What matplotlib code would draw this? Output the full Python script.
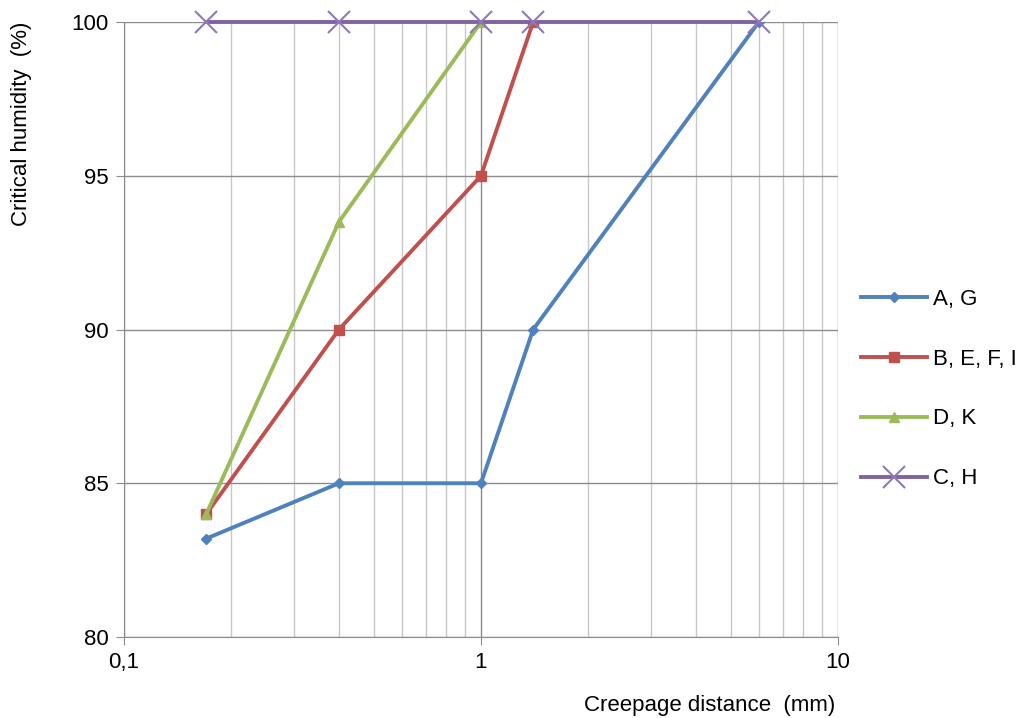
import matplotlib.pyplot as plt
from matplotlib.ticker import FixedLocator, FixedFormatter, LogLocator, NullFormatter

plt.rcParams['font.family'] = ['Liberation Sans', 'DejaVu Sans']

# creepage distance (mm) vs critical humidity (%)
x_ag = [0.17, 0.4, 1.0, 1.4, 6.0]
y_ag = [83.2, 85, 85, 90, 100]
x_befi = [0.17, 0.4, 1.0, 1.4]
y_befi = [84, 90, 95, 100]
x_dk = [0.17, 0.4, 1.0]
y_dk = [84, 93.5, 100]
x_ch = [0.17, 0.4, 1.0, 1.4, 6.0]
y_ch = [100, 100, 100, 100, 100]

fs = 16

fig = plt.figure(figsize=(10.28, 7.18), dpi=100)
ax = fig.add_axes([124 / 1028, 81 / 718, 714 / 1028, 615 / 718])

ax.set_xscale('log')
ax.set_xlim(0.1, 10)
ax.set_ylim(80, 100)

ax.plot(x_ag, y_ag, color='#4F81BD', lw=2.8, marker='D', ms=5, label='A, G', zorder=3)
ax.plot(x_befi, y_befi, color='#C0504D', lw=2.8, marker='s', ms=7, label='B, E, F, I', zorder=4)
ax.plot(x_dk, y_dk, color='#9BBB59', lw=2.8, marker='^', ms=7, label='D, K', zorder=5)
ax.plot(x_ch, y_ch, color='#8064A2', lw=2.8, marker='x', ms=16, mew=1.5, mec='#8f78b5',
        label='C, H', zorder=6, clip_on=False)

ax.xaxis.set_major_locator(FixedLocator([0.1, 1, 10]))
ax.xaxis.set_major_formatter(FixedFormatter(['0,1', '1', '10']))
ax.xaxis.set_minor_locator(LogLocator(base=10, subs=range(2, 10)))
ax.xaxis.set_minor_formatter(NullFormatter())
ax.set_yticks([80, 85, 90, 95, 100])

ax.grid(which='major', axis='both', color='#8c8c8c', lw=1.0, zorder=0)
ax.grid(which='minor', axis='x', color='#c8c8c8', lw=1.0, zorder=0)
ax.set_axisbelow(True)

for s in ['top', 'right']:
    ax.spines[s].set_visible(False)
for s in ['left', 'bottom']:
    ax.spines[s].set_color('#8c8c8c')
ax.tick_params(which='major', length=6, color='#8c8c8c', labelsize=fs, pad=5)
ax.tick_params(which='minor', length=0)

fig.text(835 / 1028, 13 / 718, 'Creepage distance  (mm)', ha='right', va='center', fontsize=fs)
fig.text(22 / 1028, 696 / 718, 'Critical humidity  (%)', rotation=90, ha='center', va='top', fontsize=fs)

fig.legend(loc='upper left', bbox_to_anchor=(854 / 1028, (718 - 282) / 718), frameon=False,
           fontsize=fs, handlelength=3.0, handletextpad=0.25, labelspacing=1.75,
           borderaxespad=0, borderpad=0.3)

fig.savefig('out.png', dpi=100)
